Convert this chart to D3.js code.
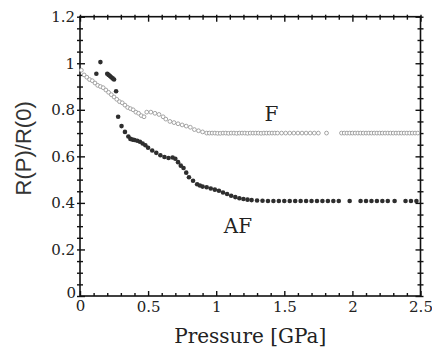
<!DOCTYPE html>
<html>
<head>
<meta charset="utf-8">
<script src="https://cdn.jsdelivr.net/npm/d3@7"></script>
<style>
  body { margin: 0; background: #fff; }
  svg { display: block; }
</style>
</head>
<body>
<div id="chart"></div>
<script>
// Pressure [GPa] and R(P)/R(0)
const fPressure = [0.01,0.03,0.05,0.07,0.09,0.11,0.13,0.15,0.17,0.19,0.21,0.23,0.25,0.27,0.29,0.31,0.33,0.35,0.37,0.39,0.41,0.43,0.45,0.47,
  0.49,0.52,0.55,0.58,0.61,0.63,0.66,0.69,0.72,0.75,0.78,0.81,0.84,0.87,0.90,0.93,
  0.95,0.97,0.99,1.01,1.03,1.05,1.07,1.09,1.11,1.13,1.15,1.17,1.19,1.21,1.23,1.25,1.27,1.29,1.31,1.33,1.35,1.37,1.39,1.41,1.43,1.45,
  1.48,1.51,1.54,1.57,1.60,1.63,1.66,1.69,1.72,1.75,1.81,
  1.92,1.94,1.96,1.98,2.00,2.02,2.04,2.06,2.08,2.10,2.12,2.14,2.16,2.18,2.20,2.22,2.24,2.26,2.28,2.30,2.32,2.34,2.36,2.38,2.40,2.42,2.44,2.46,2.48]
const fRatio = [0.97,0.95,0.94,0.93,0.925,0.915,0.905,0.90,0.895,0.885,0.875,0.865,0.855,0.845,0.835,0.83,0.82,0.81,0.805,0.80,0.79,0.785,0.775,0.77,
  0.79,0.79,0.785,0.78,0.77,0.76,0.75,0.745,0.74,0.735,0.73,0.725,0.715,0.71,0.705,0.70,
  0.70,0.70,0.70,0.699,0.699,0.70,0.70,0.699,0.70,0.70,0.699,0.70,0.70,0.70,0.699,0.70,0.70,0.70,0.70,0.699,0.70,0.70,0.70,0.70,0.70,0.70,
  0.70,0.70,0.70,0.70,0.70,0.70,0.70,0.70,0.70,0.70,0.70,
  0.70,0.70,0.70,0.70,0.70,0.70,0.70,0.70,0.70,0.70,0.70,0.70,0.70,0.70,0.70,0.70,0.70,0.70,0.70,0.70,0.70,0.70,0.70,0.70,0.70,0.70,0.70,0.70,0.70]

const afPressure = [0.12,0.15,0.20,0.21,0.22,0.23,0.24,0.25,0.265,0.28,0.305,0.33,0.355,0.37,0.385,0.40,0.42,0.44,0.46,0.48,0.50,
  0.53,0.56,0.59,0.62,0.65,0.68,0.70,0.72,0.74,0.76,0.78,0.80,0.83,0.86,0.88,0.90,0.93,0.96,0.99,1.02,1.05,1.08,1.11,1.14,1.17,1.20,1.23,
  1.26,1.30,1.34,1.38,1.42,1.46,1.50,1.54,1.58,1.62,1.66,1.70,1.74,1.78,1.82,1.86,1.90,1.98,2.06,2.10,2.14,2.18,2.22,2.26,2.31,2.39,2.43,2.47]
const afRatio = [0.955,1.005,0.955,0.95,0.945,0.94,0.935,0.93,0.88,0.77,0.73,0.705,0.685,0.675,0.672,0.67,0.667,0.663,0.655,0.648,0.637,
  0.625,0.615,0.605,0.597,0.593,0.595,0.59,0.575,0.56,0.55,0.53,0.51,0.495,0.48,0.475,0.47,0.467,0.462,0.457,0.452,0.445,0.438,0.431,0.425,0.42,0.417,0.414,
  0.412,0.41,0.409,0.408,0.408,0.408,0.408,0.408,0.408,0.408,0.408,0.408,0.408,0.408,0.408,0.408,0.408,0.408,0.408,0.408,0.408,0.408,0.408,0.408,0.408,0.408,0.408,0.408]

const xMajor = [0, 0.5, 1, 1.5, 2, 2.5]
const xMinor = [0.1,0.2,0.3,0.4,0.6,0.7,0.8,0.9,1.1,1.2,1.3,1.4,1.6,1.7,1.8,1.9,2.1,2.2,2.3,2.4]
const yMajor = [0, 0.2, 0.4, 0.6, 0.8, 1, 1.2]
const yMinor = [0.05,0.1,0.15,0.25,0.3,0.35,0.45,0.5,0.55,0.65,0.7,0.75,0.85,0.9,0.95,1.05,1.1,1.15]

const WIDTH = 432
const HEIGHT = 347
const PLOT = {LEFT: 80, RIGHT: 420.5, TOP: 16.7, BOTTOM: 296}
const serif = "DejaVu Serif, serif"

let svg = d3.select("#chart").append("svg")
    .attr("width", WIDTH)
    .attr("height", HEIGHT)

let xScale = d3.scaleLinear().domain([0, 2.5]).range([PLOT.LEFT, PLOT.RIGHT])
let yScale = d3.scaleLinear().domain([0, 1.2]).range([PLOT.BOTTOM, PLOT.TOP])

// frame
svg.append("rect")
    .attr("x", PLOT.LEFT).attr("y", PLOT.TOP)
    .attr("width", PLOT.RIGHT - PLOT.LEFT).attr("height", PLOT.BOTTOM - PLOT.TOP)
    .attr("fill", "none").attr("stroke", "#111").attr("stroke-width", 1.6)

// tick helper: ticks cross the frame a little, mostly inward
function addTicks(axisFn, scale, values, pos, len, out, labels) {
    let ax = axisFn(scale).tickValues(values).tickSizeOuter(0)
        .tickSize(-len).tickPadding(out + 4)
        .tickFormat(labels ? d3.format("") : "")
    let g = svg.append("g").attr("transform", pos).call(ax)
        .attr("font-family", serif)
        .attr("font-size", 15)
    g.select(".domain").remove()
    g.selectAll(".tick line").attr("stroke", "#111").attr("stroke-width", 1.4)
    g.selectAll(".tick text").attr("fill", "#222")
    let vertical = (axisFn === d3.axisBottom || axisFn === d3.axisTop)
    let sign = (axisFn === d3.axisBottom || axisFn === d3.axisRight) ? 1 : -1
    g.selectAll(".tick line").attr(vertical ? "y1" : "x1", sign * out)
    return g
}

let xb = addTicks(d3.axisBottom, xScale, xMajor, `translate(0,${PLOT.BOTTOM})`, 5, 0, true)
addTicks(d3.axisBottom, xScale, xMinor, `translate(0,${PLOT.BOTTOM})`, 3, 0, false)
addTicks(d3.axisTop, xScale, xMajor, `translate(0,${PLOT.TOP})`, 5, 2, false)
addTicks(d3.axisTop, xScale, xMinor, `translate(0,${PLOT.TOP})`, 3, 2, false)
let yl = addTicks(d3.axisLeft, yScale, yMajor, `translate(${PLOT.LEFT},0)`, 5, 3, true)
addTicks(d3.axisLeft, yScale, yMinor, `translate(${PLOT.LEFT},0)`, 3, 3, false)
addTicks(d3.axisRight, yScale, yMajor, `translate(${PLOT.RIGHT},0)`, 5, 3, false)
addTicks(d3.axisRight, yScale, yMinor, `translate(${PLOT.RIGHT},0)`, 3, 3, false)

xb.selectAll("text").attr("dy", "0.8em").attr("y", 4)
yl.selectAll("text").attr("x", -5)
yl.selectAll(".tick").filter(d => d === 0).select("text").attr("dy", "0.1em").attr("x", -4)
xb.selectAll(".tick").filter(d => d === 0).select("text").attr("y", 3)

// series F: open circles
svg.append("g").selectAll("circle")
    .data(d3.zip(fPressure, fRatio))
    .join("circle")
    .attr("cx", d => xScale(d[0]))
    .attr("cy", d => yScale(d[1]))
    .attr("r", 1.9)
    .attr("fill", "#fff")
    .attr("stroke", "#9a9a9a")
    .attr("stroke-width", 0.9)

// series AF: filled circles
svg.append("g").selectAll("circle")
    .data(d3.zip(afPressure, afRatio))
    .join("circle")
    .attr("cx", d => xScale(d[0]))
    .attr("cy", d => yScale(d[1]))
    .attr("r", 2.3)
    .attr("fill", "#2e2e2e")

// curve labels
svg.append("text").text("F")
    .attr("x", xScale(1.405)).attr("y", yScale(0.75))
    .attr("text-anchor", "middle")
    .attr("font-family", serif).attr("font-size", 20).attr("fill", "#222")
svg.append("text").text("AF")
    .attr("x", xScale(1.16)).attr("y", yScale(0.27))
    .attr("text-anchor", "middle")
    .attr("font-family", serif).attr("font-size", 20).attr("fill", "#222")

// axis titles
svg.append("text").text("Pressure [GPa]")
    .attr("x", (PLOT.LEFT + PLOT.RIGHT) / 2).attr("y", 343)
    .attr("text-anchor", "middle")
    .attr("font-family", serif).attr("font-size", 20).attr("fill", "#222")
svg.append("text").text("R(P)/R(0)")
    .attr("transform", `translate(31,${(PLOT.TOP + PLOT.BOTTOM) / 2 - 8}) rotate(-90)`)
    .attr("text-anchor", "middle")
    .attr("font-family", "Liberation Sans, Arial, sans-serif").attr("font-size", 22).attr("fill", "#333")
</script>
</body>
</html>
